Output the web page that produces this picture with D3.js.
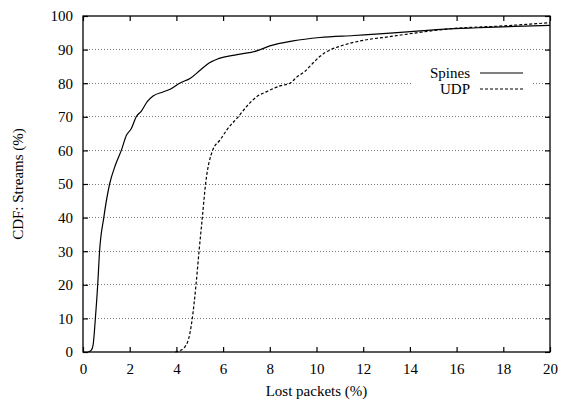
<!DOCTYPE html>
<html>
<head>
<meta charset="utf-8">
<script src="https://cdn.jsdelivr.net/npm/d3@7"></script>
<style>
  html, body { margin: 0; padding: 0; background: #fff; }
  svg { display: block; }
  svg text { font-family: "Liberation Serif", "DejaVu Serif", "Times New Roman", serif !important; fill: #000; }
</style>
</head>
<body>
<script>
// ---- data ----
const xTickValues = [0, 2, 4, 6, 8, 10, 12, 14, 16, 18, 20];
const yTickValues = [0, 10, 20, 30, 40, 50, 60, 70, 80, 90, 100];
const gridValues = [10, 20, 30, 40, 50, 60, 70, 80, 90];

const spinesX = [0.22, 0.35, 0.43, 0.53, 0.63, 0.71, 0.89, 1.14, 1.38, 1.64, 1.86, 2.07, 2.28, 2.50, 2.75, 3.0, 3.43, 3.73, 4.14, 4.6, 5.04, 5.4, 5.8, 6.6, 7.44, 8.0, 9.0, 10.15, 11.6, 13.0, 14.3, 15.5, 16.9, 18.5, 20];
const spinesY = [0, 0.5, 2, 10, 20, 30, 40, 50, 55.5, 60, 64.5, 66.5, 70, 71.7, 74.5, 76.2, 77.4, 78.2, 80, 81.5, 84, 86, 87.3, 88.5, 89.6, 91.1, 92.6, 93.6, 94.2, 94.8, 95.5, 96.1, 96.5, 96.9, 97.2];

const udpX = [3.95, 4.1, 4.37, 4.58, 4.68, 4.84, 4.97, 5.11, 5.25, 5.55, 5.87, 6.2, 6.65, 7.0, 7.44, 7.87, 8.44, 8.87, 9.15, 9.5, 9.85, 10.15, 10.58, 11.0, 11.5, 12.29, 12.86, 14.29, 15.72, 17.86, 20];
const udpY = [0, 0.3, 1.6, 5.6, 10, 20, 30, 40, 50, 60, 63.1, 66.5, 70, 73, 76, 77.5, 79.2, 80, 81.8, 83.5, 86, 88, 89.9, 91, 92, 93.1, 93.6, 95, 96.2, 97, 98];

const seriesNames = ["Spines", "UDP"];
const xLabel = "Lost packets (%)";
const yLabel = "CDF: Streams (%)";

// ---- layout ----
const W = 561, H = 400;
const margin = { left: 83, top: 16, right: 11, bottom: 48 };
const iw = W - margin.left - margin.right;
const ih = H - margin.top - margin.bottom;
const FONT = "'Liberation Serif', 'DejaVu Serif', serif";

const svg = d3.select("body").append("svg").attr("width", W).attr("height", H)
  .style("font-family", FONT);
const g = svg.append("g").attr("transform", `translate(${margin.left},${margin.top})`);

const x = d3.scaleLinear().domain([0, 20]).range([0, iw]);
const y = d3.scaleLinear().domain([0, 100]).range([ih, 0]);

// grid
g.append("g").selectAll("line").data(gridValues).join("line")
  .attr("x1", 0).attr("x2", iw)
  .attr("y1", d => y(d)).attr("y2", d => y(d))
  .attr("stroke", "#7a7a7a").attr("stroke-width", 1)
  .attr("stroke-dasharray", "1,2")
  .attr("shape-rendering", "crispEdges");

// legend geometry
const legTextRight = 470 - margin.left;
const legLineX1 = 480 - margin.left, legLineX2 = 523 - margin.left;
const legY0 = 73 - margin.top, legDy = 16;

// legend background (grid gap)
g.append("rect")
  .attr("x", legTextRight - 57).attr("y", legY0 - 9)
  .attr("width", legLineX2 + 9 - (legTextRight - 57)).attr("height", legDy + 18)
  .attr("fill", "#fff");

// axes
const fontSize = 15;
const axB = g.append("g").attr("transform", `translate(0,${ih})`)
  .call(d3.axisBottom(x).tickValues(xTickValues).tickFormat(d3.format("d")).tickSizeInner(-5).tickSizeOuter(0).tickPadding(11));
const axL = g.append("g")
  .call(d3.axisLeft(y).tickValues(yTickValues).tickFormat(d3.format("d")).tickSizeInner(-5).tickSizeOuter(0).tickPadding(10));
const axT = g.append("g")
  .call(d3.axisTop(x).tickValues(xTickValues).tickFormat("").tickSizeInner(-5).tickSizeOuter(0));
const axR = g.append("g").attr("transform", `translate(${iw},0)`)
  .call(d3.axisRight(y).tickValues(yTickValues).tickFormat("").tickSizeInner(-5).tickSizeOuter(0));
[axB, axL, axT, axR].forEach(a => {
  a.attr("font-family", null).attr("font-size", null);
  a.select(".domain").remove();
  a.selectAll("line").attr("stroke", "#000").attr("stroke-width", 1.2);
  a.selectAll("text").style("font-family", FONT).attr("font-size", fontSize).attr("fill", "#000");
});

// frame
g.append("rect").attr("x", 0).attr("y", 0).attr("width", iw).attr("height", ih)
  .attr("fill", "none").attr("stroke", "#000").attr("stroke-width", 1.3);

// lines
const line = d3.line().x(d => x(d[0])).y(d => y(d[1])).curve(d3.curveMonotoneX);
const spines = spinesX.map((v, i) => [v, spinesY[i]]);
const udp = udpX.map((v, i) => [v, udpY[i]]);

g.append("path").datum(spines).attr("d", line)
  .attr("fill", "none").attr("stroke", "#000").attr("stroke-width", 1.2);
g.append("path").datum(udp).attr("d", line)
  .attr("fill", "none").attr("stroke", "#000").attr("stroke-width", 1.2)
  .attr("stroke-dasharray", "3,2");

// legend
const dashes = [null, "3,2"];
seriesNames.forEach((name, i) => {
  const ly = legY0 + i * legDy;
  g.append("text").attr("x", legTextRight).attr("y", ly).attr("dy", "0.32em")
    .attr("text-anchor", "end").attr("font-size", fontSize).style("font-family", FONT).text(name);
  g.append("line").attr("x1", legLineX1).attr("x2", legLineX2).attr("y1", ly).attr("y2", ly)
    .attr("stroke", "#000").attr("stroke-width", 1.2)
    .attr("stroke-dasharray", dashes[i]);
});

// axis labels
svg.append("text").attr("x", margin.left + iw / 2).attr("y", 396)
  .attr("text-anchor", "middle").attr("font-size", fontSize).style("font-family", FONT).text(xLabel);
svg.append("text").attr("transform", `translate(23,${margin.top + ih / 2}) rotate(-90)`)
  .attr("text-anchor", "middle").attr("font-size", fontSize).style("font-family", FONT).text(yLabel);
</script>
</body>
</html>
